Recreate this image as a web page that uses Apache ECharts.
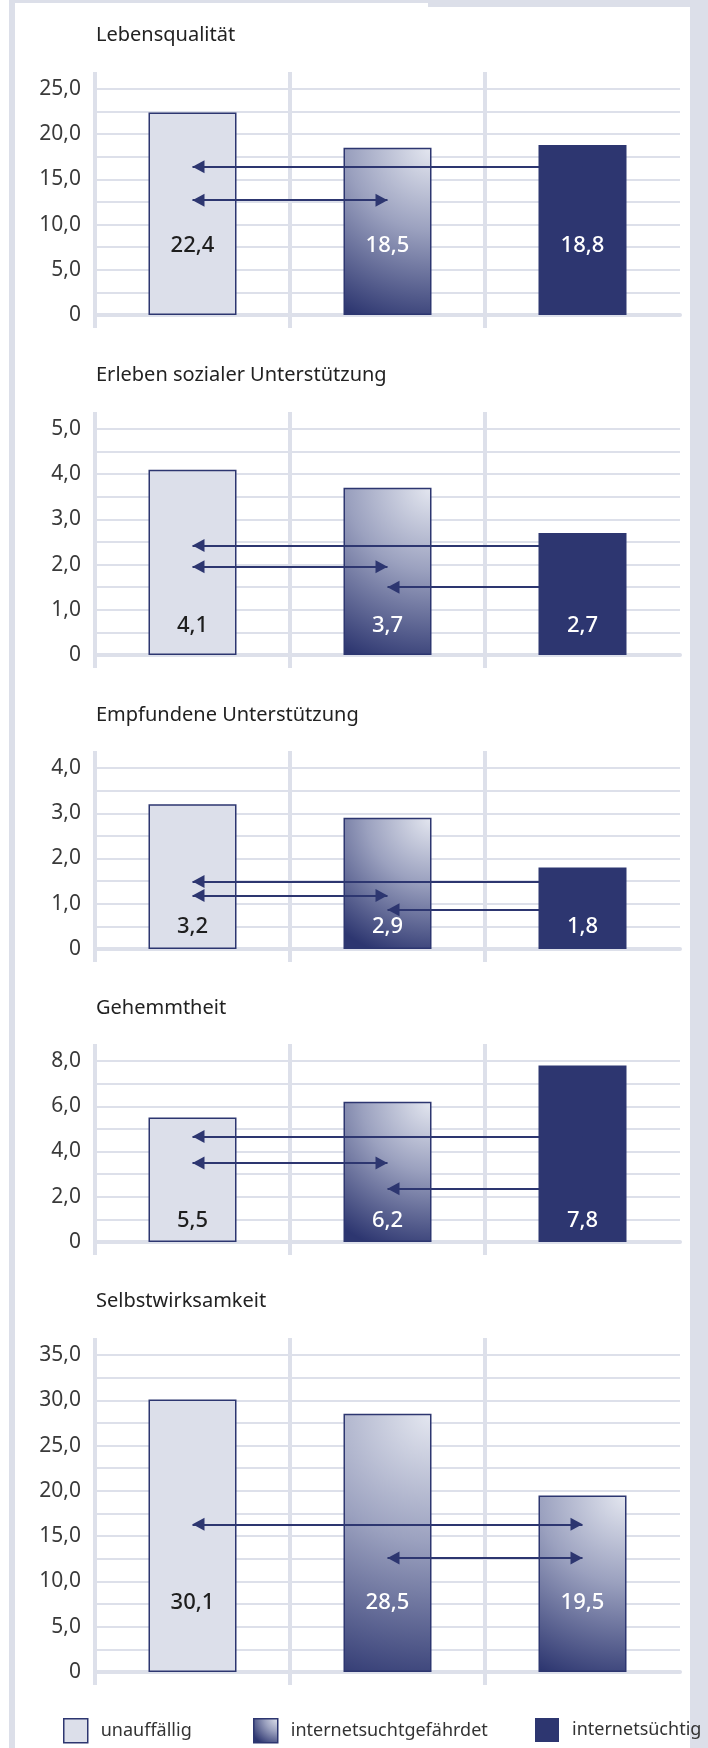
<!DOCTYPE html>
<html>
<head>
<meta charset="utf-8">
<script src="https://cdn.jsdelivr.net/npm/echarts@6/dist/echarts.min.js"></script>
<style>
  html, body { margin: 0; padding: 0; background: #ffffff; }
  #chart { width: 708px; height: 1748px; }
</style>
</head>
<body>
<div id="chart"></div>
<script>
// Groups compared in every panel
const categories = ['unauffällig', 'internetsuchtgefährdet', 'internetsüchtig'];

// Panel headings
const titles = ['Lebensqualität', 'Erleben sozialer Unterstützung', 'Empfundene Unterstützung', 'Gehemmtheit', 'Selbstwirksamkeit'];

// Mean scores per group
const lebensqualitaet = [22.4, 18.5, 18.8];
const sozialeUnterstuetzung = [4.1, 3.7, 2.7];
const empfundeneUnterstuetzung = [3.2, 2.9, 1.8];
const gehemmtheit = [5.5, 6.2, 7.8];
const selbstwirksamkeit = [30.1, 28.5, 19.5];

// Value axis ranges (max, tick step)
const axisMax = [25, 5, 4, 8, 35];
const axisStep = [5, 1, 1, 2, 5];

// Significant group differences: [from group, to group, height on the value axis, arrow at both ends]
const comparisons1 = [[2, 0, 16.4, false], [0, 1, 12.7, true]];
const comparisons2 = [[2, 0, 2.42, false], [0, 1, 1.95, true], [2, 1, 1.5, false]];
const comparisons3 = [[2, 0, 1.49, false], [0, 1, 1.18, true], [2, 1, 0.87, false]];
const comparisons4 = [[2, 0, 4.66, false], [0, 1, 3.49, true], [2, 1, 2.35, false]];
const comparisons5 = [[0, 2, 16.3, true], [1, 2, 12.6, true]];

const seriesValues = [lebensqualitaet, sozialeUnterstuetzung, empfundeneUnterstuetzung, gehemmtheit, selbstwirksamkeit];
const comparisons = [comparisons1, comparisons2, comparisons3, comparisons4, comparisons5];

// ---- layout & styling ----
const FONT = '"Noto Sans", "DejaVu Sans", sans-serif';
const NAVY = '#2d3670';
const PALE = '#dcdfea';
const LINE = '#dde0ea';
const FRAME = '#dcdfe9';
const GRID_LEFT = 95, GRID_RIGHT = 28, BAR_W = 88;

const layout = [
  { top: 89,   height: 226, titleY: 35,   labelGap: 58, fills: [0, 1, 2] },
  { top: 429,  height: 226, titleY: 375,  labelGap: 18, fills: [0, 1, 2] },
  { top: 768,  height: 181, titleY: 715,  labelGap: 11, fills: [0, 1, 2] },
  { top: 1061, height: 181, titleY: 1008, labelGap: 10, fills: [0, 1, 2] },
  { top: 1355, height: 317, titleY: 1301, labelGap: 58, fills: [0, 1, 1] }
];
const legendLeft = [58, 248, 530];
const LEGEND_TOP = 1713;

function fmt(v) { return v === 0 ? '0' : Number(v).toFixed(1).replace('.', ','); }

// light corner at top right fading to navy
function shade(r) {
  return new echarts.graphic.RadialGradient(1, 0, r, [
    { offset: 0, color: '#e4e7f0' },
    { offset: 0.45, color: '#9ba1bf' },
    { offset: 1, color: NAVY }
  ]);
}

function seriesStyle(kind) {
  if (kind === 0) return { color: PALE, borderColor: NAVY, borderWidth: 1.5 };
  if (kind === 1) return { color: shade(1.2), borderColor: NAVY, borderWidth: 1.5 };
  return { color: NAVY, borderWidth: 0 };
}

function barStyle(kind, v, p) {
  const s = seriesStyle(kind);
  if (kind === 1) {
    const hPx = v / axisMax[p] * layout[p].height;
    s.color = shade(1.1 * Math.max(hPx, BAR_W) / BAR_W);
  }
  return s;
}

const keepBoundary = (idx) => idx < 3;

const grid = [], xAxis = [], yAxis = [], series = [], title = [];

layout.forEach((L, p) => {
  grid.push({ left: GRID_LEFT, right: GRID_RIGHT, top: L.top, height: L.height });

  title.push({
    text: titles[p], left: 96, top: L.titleY - 12, padding: 0,
    textStyle: { fontFamily: FONT, fontSize: 20, fontWeight: 'normal', color: '#222', lineHeight: 24 }
  });

  // category axis carrying the bars; its line is the thick zero line
  xAxis.push({
    gridIndex: p, type: 'category', data: categories, position: 'bottom',
    axisLine: { show: true, lineStyle: { color: LINE, width: 4 } },
    axisTick: { show: false }, axisLabel: { show: false }, splitLine: { show: false }
  });
  // group separators, extended above the top grid line
  xAxis.push({
    gridIndex: p, type: 'category', data: ['0', '1', '2', '3'], boundaryGap: false, position: 'top',
    axisLine: { show: false }, axisLabel: { show: false },
    axisTick: { show: true, length: 17, interval: keepBoundary, lineStyle: { color: LINE, width: 4 } },
    splitLine: { show: true, interval: keepBoundary, lineStyle: { color: LINE, width: 4 } }
  });
  // group separators, extended below the zero line
  xAxis.push({
    gridIndex: p, type: 'category', data: ['0', '1', '2', '3'], boundaryGap: false, position: 'bottom',
    axisLine: { show: false }, axisLabel: { show: false }, splitLine: { show: false },
    axisTick: { show: true, length: 13, interval: keepBoundary, lineStyle: { color: LINE, width: 4 } }
  });

  yAxis.push({
    gridIndex: p, type: 'value', min: 0, max: axisMax[p], interval: axisStep[p],
    axisLine: { show: false }, axisTick: { show: false },
    axisLabel: { formatter: fmt, margin: 14, fontFamily: FONT, fontSize: 21, color: '#3a3a3a' },
    splitLine: { show: true, lineStyle: { color: LINE, width: 2 } },
    minorTick: { show: false, splitNumber: 2 },
    minorSplitLine: { show: true, lineStyle: { color: LINE, width: 2 } }
  });

  const values = seriesValues[p];
  categories.forEach((name, c) => {
    const kind = L.fills[c];
    const s = {
      type: 'bar', name: name, xAxisIndex: p * 3, yAxisIndex: p,
      barWidth: BAR_W, barGap: '-100%', z: 3,
      itemStyle: seriesStyle(c),
      data: values.map((v, i) => i === c ? { value: v, itemStyle: barStyle(kind, v, p) } : '-'),
      label: {
        show: true, position: 'insideBottom', distance: L.labelGap,
        formatter: (d) => fmt(d.value),
        fontFamily: FONT, fontSize: 22, fontWeight: 500, color: kind === 0 ? '#1e1e1e' : '#ffffff'
      },
      silent: true
    };
    if (c === 0) {
      const tip = { symbol: 'triangle', symbolSize: [13, 12], symbolOffset: [0, 6] };
      s.markLine = {
        silent: true, animation: false,
        label: { show: false },
        lineStyle: { color: NAVY, width: 2, type: 'solid' },
        emphasis: { disabled: true },
        data: comparisons[p].map(([from, to, level, both]) => [
          Object.assign({ coord: [from, level] }, both ? tip : { symbol: 'none' }),
          Object.assign({ coord: [to, level] }, tip)
        ])
      };
    }
    series.push(s);
  });
});

const legend = categories.map((name, i) => ({
  data: [name], left: legendLeft[i], top: LEGEND_TOP,
  icon: 'rect', itemWidth: 24, itemHeight: 24, selectedMode: false,
  itemStyle: i < 2 ? { borderColor: NAVY, borderWidth: 1.5 } : { borderWidth: 0 },
  textStyle: { fontFamily: FONT, fontSize: 18, color: '#333', padding: [0, 0, 0, 8] }
}));

const chart = echarts.init(document.getElementById('chart'), null, { renderer: 'canvas' });
chart.setOption({
  animation: false,
  backgroundColor: '#ffffff',
  graphic: [
    { type: 'rect', silent: true, z: -1, shape: { x: 9, y: 0, width: 6, height: 1748 }, style: { fill: FRAME } },
    { type: 'rect', silent: true, z: -1, shape: { x: 9, y: 0, width: 420, height: 3 }, style: { fill: FRAME } },
    { type: 'rect', silent: true, z: -1, shape: { x: 428, y: 0, width: 280, height: 7 }, style: { fill: FRAME } },
    { type: 'rect', silent: true, z: -1, shape: { x: 690, y: 0, width: 18, height: 1748 }, style: { fill: FRAME } }
  ],
  title, grid, xAxis, yAxis, series, legend
});
</script>
</body>
</html>
